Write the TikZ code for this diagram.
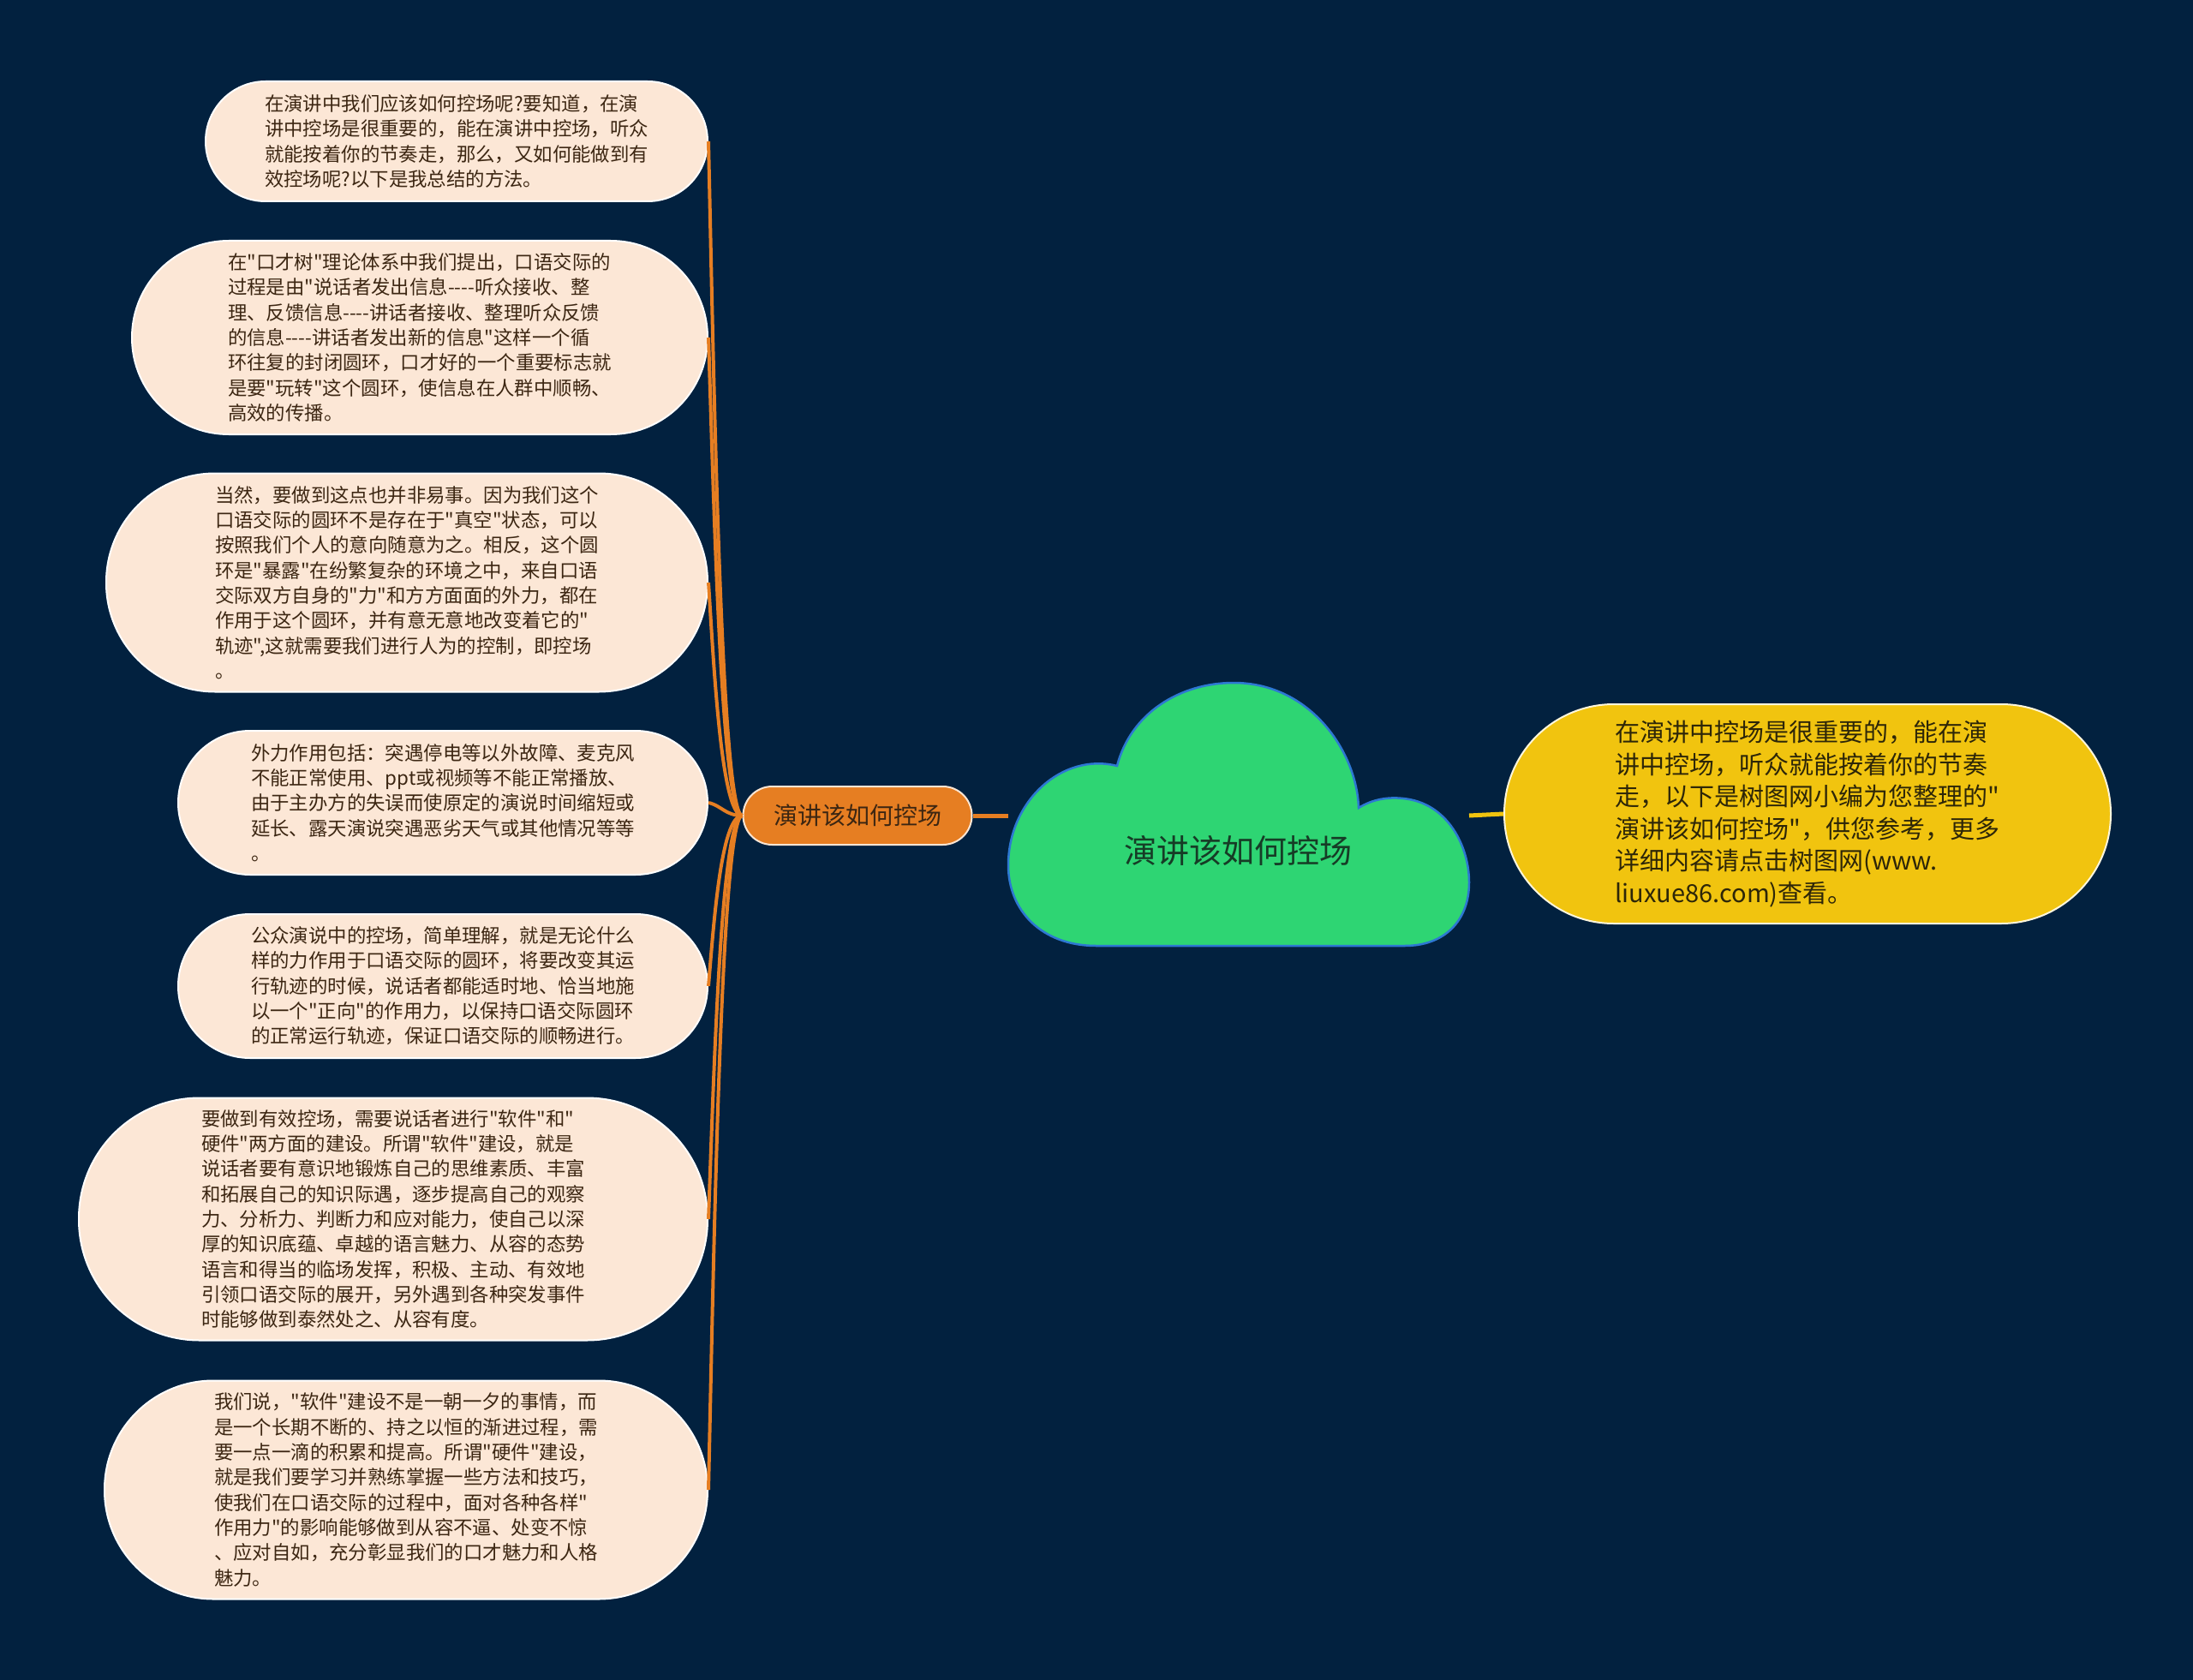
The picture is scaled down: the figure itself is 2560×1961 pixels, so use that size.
\documentclass[tikz,border=0pt]{standalone}
\usepackage{fontspec}
\newfontfamily\cjk{Noto Sans CJK SC}
\usetikzlibrary{positioning}
\definecolor{bgc}{RGB}{2,33,63}
\definecolor{peach}{RGB}{252,231,214}
\definecolor{brownt}{RGB}{60,38,18}
\definecolor{orng}{RGB}{230,126,34}
\definecolor{grn}{RGB}{46,213,115}
\definecolor{blu}{RGB}{45,120,210}
\definecolor{ylw}{RGB}{241,196,15}
\definecolor{darkg}{RGB}{22,60,38}
\definecolor{darky}{RGB}{45,38,8}

\begin{document}
\begin{tikzpicture}[x=1pt,y=-1pt,
		leaf/.style={rectangle, draw=white, line width=2pt, fill=peach, text=brownt, align=left, inner sep=0pt, font=\cjk\fontsize{22.4}{29.3}\selectfont},
		sub/.style={rectangle, draw=white!80!orng, line width=2pt, fill=orng, text=brownt, rounded corners=34pt, minimum width=267pt, minimum height=68pt, inner sep=0pt, font=\cjk\fontsize{28}{34}\selectfont},
		side/.style={rectangle, draw=white!85!ylw, line width=2pt, fill=ylw, text=darky, align=left, inner sep=0pt, rounded corners=128pt, minimum width=708pt, minimum height=256pt, font=\cjk\fontsize{29}{37.5}\selectfont},
		cloudst/.style={fill=grn, draw=blu, line width=2.5pt},
		lab/.style={text=darkg, font=\cjk\fontsize{38}{46}\selectfont},
		ed/.style={draw=orng, line width=4pt},
		edy/.style={draw=ylw, line width=5pt}
		]
		\fill[bgc] (0,0) rectangle (2560,1961);
		\useasboundingbox (0,0) rectangle (2560,1961);
		% left branch
		\node[leaf, minimum width=586pt, minimum height=140pt, rounded corners=70pt] (b1) at (533,165) {在演讲中我们应该如何控场呢?要知道，在演\\讲中控场是很重要的，能在演讲中控场，听众\\就能按着你的节奏走，那么，又如何能做到有\\效控场呢?以下是我总结的方法。};
		\node[leaf, minimum width=672pt, minimum height=226pt, rounded corners=113pt] (b2) at (490,394) {在"口才树"理论体系中我们提出，口语交际的\\过程是由"说话者发出信息----听众接收、整\\理、反馈信息----讲话者接收、整理听众反馈\\的信息----讲话者发出新的信息"这样一个循\\环往复的封闭圆环，口才好的一个重要标志就\\是要"玩转"这个圆环，使信息在人群中顺畅、\\高效的传播。};
		\node[leaf, minimum width=702pt, minimum height=255pt, rounded corners=127pt] (b3) at (475,680) {当然，要做到这点也并非易事。因为我们这个\\口语交际的圆环不是存在于"真空"状态，可以\\按照我们个人的意向随意为之。相反，这个圆\\环是"暴露"在纷繁复杂的环境之中，来自口语\\交际双方自身的"力"和方方面面的外力，都在\\作用于这个圆环，并有意无意地改变着它的"\\轨迹",这就需要我们进行人为的控制，即控场\\。};
		\node[leaf, minimum width=618pt, minimum height=168pt, rounded corners=84pt] (b4) at (517,937) {外力作用包括：突遇停电等以外故障、麦克风\\不能正常使用、ppt或视频等不能正常播放、\\由于主办方的失误而使原定的演说时间缩短或\\延长、露天演说突遇恶劣天气或其他情况等等\\。};
		\node[leaf, minimum width=618pt, minimum height=168pt, rounded corners=84pt] (b5) at (517,1151) {公众演说中的控场，简单理解，就是无论什么\\样的力作用于口语交际的圆环，将要改变其运\\行轨迹的时候，说话者都能适时地、恰当地施\\以一个"正向"的作用力，以保持口语交际圆环\\的正常运行轨迹，保证口语交际的顺畅进行。};
		\node[leaf, minimum width=734pt, minimum height=283pt, rounded corners=141pt] (b6) at (459,1423) {要做到有效控场，需要说话者进行"软件"和"\\硬件"两方面的建设。所谓"软件"建设，就是\\说话者要有意识地锻炼自己的思维素质、丰富\\和拓展自己的知识际遇，逐步提高自己的观察\\力、分析力、判断力和应对能力，使自己以深\\厚的知识底蕴、卓越的语言魅力、从容的态势\\语言和得当的临场发挥，积极、主动、有效地\\引领口语交际的展开，另外遇到各种突发事件\\时能够做到泰然处之、从容有度。};
		\node[leaf, minimum width=704pt, minimum height=255pt, rounded corners=127pt] (b7) at (474,1739) {我们说，"软件"建设不是一朝一夕的事情，而\\是一个长期不断的、持之以恒的渐进过程，需\\要一点一滴的积累和提高。所谓"硬件"建设，\\就是我们要学习并熟练掌握一些方法和技巧，\\使我们在口语交际的过程中，面对各种各样"\\作用力"的影响能够做到从容不逼、处变不惊\\、应对自如，充分彰显我们的口才魅力和人格\\魅力。};
		\node[sub] (mid) at (1001,952) {演讲该如何控场};
		% connectors
		\coordinate (cL) at (1177,952);
		\coordinate (cR) at (1715,952);
		\draw[ed] (mid.west) .. controls +(-25,0) and +(6,260) .. (b1.east);
		\draw[ed] (mid.west) .. controls +(-25,0) and +(6,180) .. (b2.east);
		\draw[ed] (mid.west) .. controls +(-25,0) and +(6,90) .. (b3.east);
		\draw[ed] (mid.west) .. controls +(-20,0) and +(15,3) .. (b4.east);
		\draw[ed] (mid.west) .. controls +(-25,0) and +(6,-70) .. (b5.east);
		\draw[ed] (mid.west) .. controls +(-25,0) and +(6,-160) .. (b6.east);
		\draw[ed] (mid.west) .. controls +(-25,0) and +(6,-260) .. (b7.east);
		\draw[ed, line width=5pt] (mid.east) -- (cL);
		% cloud
		\draw[cloudst] (1280,1104) .. controls (1215,1104) and (1177,1062) .. (1177,1010)
			.. controls (1177,935) and (1240,878) .. (1304,894)
			.. controls (1320,832) and (1378,797) .. (1440,797)
			.. controls (1530,797) and (1584,878) .. (1586,943)
			.. controls (1602,933) and (1620,930) .. (1638,932)
			.. controls (1690,937) and (1715,988) .. (1715,1030)
			.. controls (1715,1075) and (1686,1104) .. (1640,1104) -- cycle;
		\node[lab] (root) at (1445,993) {演讲该如何控场};
		% right branch
		\node[side] (r1) at (2110,950) {在演讲中控场是很重要的，能在演\\讲中控场，听众就能按着你的节奏\\走，以下是树图网小编为您整理的"\\演讲该如何控场"，供您参考，更多\\详细内容请点击树图网(www.\\liuxue86.com)查看。};
		\draw[edy] (cR) -- (r1.west);
	\end{tikzpicture}
\end{document}
